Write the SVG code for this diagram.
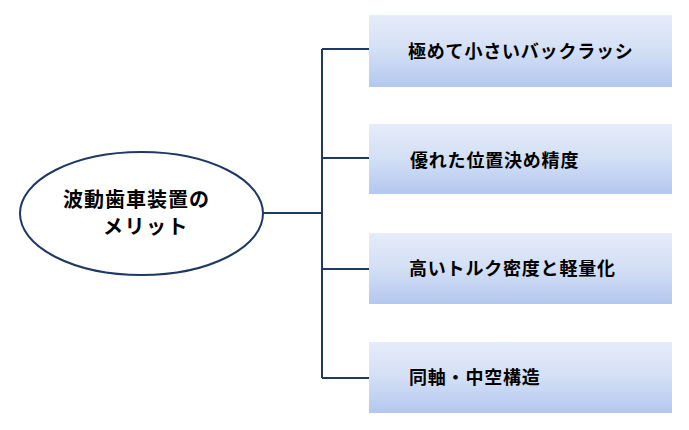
<svg xmlns="http://www.w3.org/2000/svg" width="689" height="430" viewBox="0 0 689 430">
<defs>
<linearGradient id="g" x1="0" y1="0" x2="0" y2="1">
<stop offset="0" stop-color="#E6ECF9"/>
<stop offset="0.5" stop-color="#D3DFF5"/>
<stop offset="1" stop-color="#B3C7EF"/>
</linearGradient>
<style>
.box{fill:url(#g);}
.t{font-family:"Noto Sans CJK JP",sans-serif;font-weight:bold;font-size:18px;letter-spacing:0.8px;fill:#000;}
.e{font-family:"Noto Sans CJK JP",sans-serif;font-weight:bold;font-size:20px;letter-spacing:1px;fill:#000;}
.c{fill:none;stroke:#203864;stroke-width:2;}
</style>
</defs>
<rect width="689" height="430" fill="#fff"/>
<g id="connectors">
<path class="c" d="M263 213 H322 M322 49 V378 M322 49 H369 M322 158 H369 M322 269 H369 M322 378 H369"/>
</g>
<g id="center">
<ellipse cx="141.5" cy="213.5" rx="121.5" ry="61.5" fill="#fff" stroke="#203864" stroke-width="2"/>
<text class="e" x="63" y="207">波動歯車装置の</text>
<text class="e" x="103" y="234" style="letter-spacing:1.5px">メリット</text>
</g>
<g id="n1">
<rect class="box" x="369" y="15" width="303" height="72"/>
<text class="t" x="408" y="58">極めて小さいバックラッシ</text>
</g>
<g id="n2">
<rect class="box" x="369" y="124" width="303" height="70"/>
<text class="t" x="410" y="167">優れた位置決め精度</text>
</g>
<g id="n3">
<rect class="box" x="369" y="233" width="303" height="71"/>
<text class="t" x="409" y="275">高いトルク密度と軽量化</text>
</g>
<g id="n4">
<rect class="box" x="369" y="342" width="303" height="71"/>
<text class="t" x="409" y="384">同軸・中空構造</text>
</g>
</svg>
